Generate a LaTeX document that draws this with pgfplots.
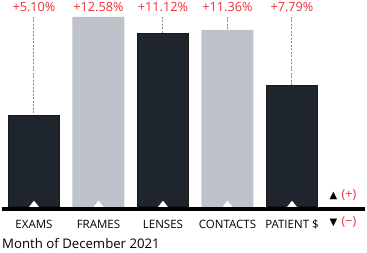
\documentclass[border=0pt]{standalone}
\usepackage{pgfplots}
\pgfplotsset{compat=1.18}
\usepackage{fontspec}
\setmainfont{Open Sans}
\newfontfamily\dejavu{DejaVu Sans}
\definecolor{darkbar}{HTML}{1E252D}
\definecolor{greybar}{HTML}{BEC2CB}
\definecolor{redlab}{HTML}{EE2E38}
\definecolor{dashgrey}{HTML}{8C8C8C}
\begin{document}
\begin{tikzpicture}[x=1pt,y=1pt]
\useasboundingbox (0,0) rectangle (367,252);
\begin{axis}[
  at={(2pt,45pt)}, anchor=south west,
  scale only axis, width=363pt, height=207pt,
  xmin=-0.496, xmax=5.132, ymin=0, ymax=207,
  hide axis, clip=false,
]
% dashed guide lines
\addplot[dashgrey, line width=1pt, dash pattern=on 2pt off 1.5pt] coordinates {(0,190) (0,91.2)};
\addplot[dashgrey, line width=1pt, dash pattern=on 2pt off 1.5pt] coordinates {(2,190) (2,173.8)};
\addplot[dashgrey, line width=1pt, dash pattern=on 2pt off 1.5pt] coordinates {(3,190) (3,177)};
\addplot[dashgrey, line width=1pt, dash pattern=on 2pt off 1.5pt] coordinates {(4,190) (4,121.8)};
% bars
\addplot[ybar, bar width=52pt, bar shift=0pt, fill=greybar, draw=none] coordinates {(1,190) (3,177)};
\addplot[ybar, bar width=51pt, bar shift=0pt, fill=darkbar, draw=black!90, line width=1pt] coordinates {(0,91.2) (2,173.8) (4,121.8)};
% white triangles at the base
\addplot[only marks, mark=triangle*, mark size=6.2pt, mark options={fill=white, draw=white, line width=0.1pt, yscale=0.72}] coordinates {(0,1.6) (1,1.6) (2,1.6) (3,1.6) (4,1.6)};
% value labels
\foreach \i/\t in {0/+5.10\%, 1/+12.58\%, 2/+11.12\%, 3/+11.36\%, 4/+7.79\%}{
  \edef\tmp{\noexpand\node[anchor=base, inner sep=0pt, text=redlab, font=\noexpand\fontsize{12.7}{14}\noexpand\selectfont] at (axis cs:\i,195.3) {\t};}
  \tmp
}
% category labels
\node[anchor=base, inner sep=0pt, font=\fontsize{11.5}{13}\selectfont] at (axis cs:0,-21) {EXAMS};
\node[anchor=base, inner sep=0pt, font=\fontsize{11.5}{13}\selectfont] at (axis cs:1,-21) {FRAMES};
\node[anchor=base, inner sep=0pt, font=\fontsize{11.5}{13}\selectfont] at (axis cs:2,-21) {LENSES};
\node[anchor=base, inner sep=0pt, font=\fontsize{11.5}{13}\selectfont] at (axis cs:3,-21) {CONTACTS};
\node[anchor=base, inner sep=0pt, font=\fontsize{11.5}{13}\selectfont] at (axis cs:4,-21) {PATIENT \$};
\end{axis}
\draw[line width=3.5pt] (2,43.25) -- (365,43.25);
\node[anchor=base west, inner sep=0pt, font=\fontsize{13.2}{15}\selectfont] at (2,4) {Month of December 2021};
\node[anchor=base west, inner sep=0pt, font=\dejavu\fontsize{10}{11}\selectfont] at (329.5,53.5) {▲};
\node[anchor=base west, inner sep=0pt, text=redlab, font=\fontsize{12.5}{14}\selectfont] at (341.5,53.6) {(+)};
\node[anchor=base west, inner sep=0pt, font=\dejavu\fontsize{10}{11}\selectfont] at (329.5,26.2) {▼};
\node[anchor=base west, inner sep=0pt, text=redlab, font=\fontsize{12.5}{14}\selectfont] at (341.5,26.4) {(−)};
\end{tikzpicture}
\end{document}
